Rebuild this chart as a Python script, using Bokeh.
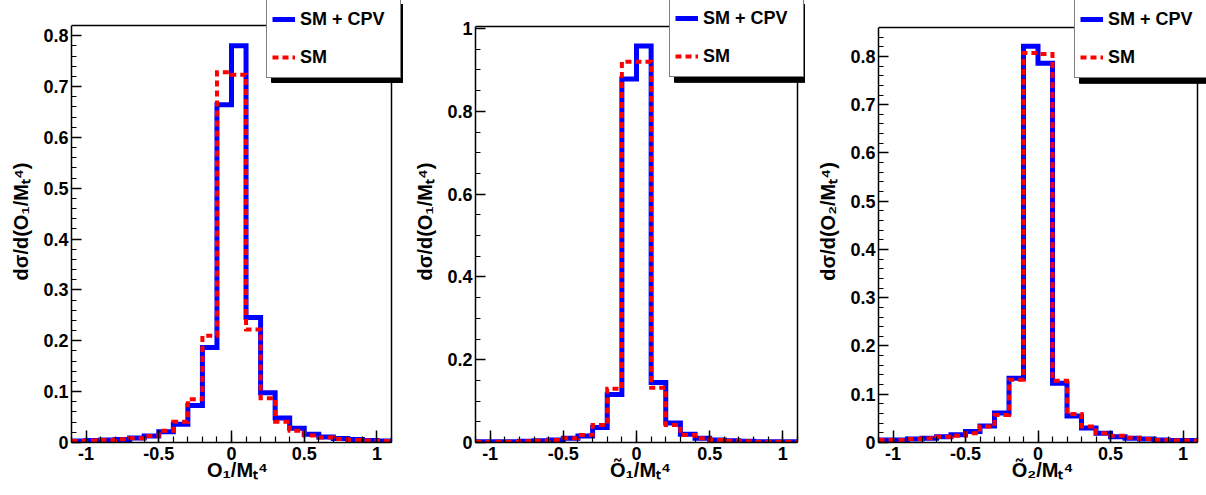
import numpy as np
from bokeh.plotting import figure
from bokeh.layouts import row
from bokeh.models import (Legend, LegendItem, SingleIntervalTicker,
                          PrintfTickFormatter, Range1d)
from bokeh.embed import file_html
from bokeh.resources import INLINE

# ---- data -------------------------------------------------------------
bin_edges = [-1.1, -1.0, -0.9, -0.8, -0.7, -0.6, -0.5, -0.4, -0.3, -0.2, -0.1,
             0.0, 0.1, 0.2, 0.3, 0.4, 0.5, 0.6, 0.7, 0.8, 0.9, 1.0, 1.1]

o1_cpv = [0.003, 0.004, 0.005, 0.006, 0.009, 0.013, 0.021, 0.036, 0.073, 0.187, 0.664,
          0.780, 0.246, 0.098, 0.048, 0.028, 0.016, 0.011, 0.008, 0.006, 0.004, 0.003]
o1_sm = [0.003, 0.004, 0.005, 0.0065, 0.0085, 0.013, 0.023, 0.041, 0.085, 0.210, 0.728,
         0.723, 0.222, 0.087, 0.041, 0.023, 0.014, 0.010, 0.007, 0.005, 0.004, 0.003]

o1t_cpv = [0.002, 0.002, 0.002, 0.003, 0.004, 0.006, 0.010, 0.016, 0.036, 0.116, 0.878,
           0.958, 0.145, 0.047, 0.020, 0.010, 0.006, 0.004, 0.003, 0.002, 0.002, 0.002]
o1t_sm = [0.002, 0.002, 0.002, 0.003, 0.004, 0.006, 0.010, 0.018, 0.042, 0.130, 0.920,
          0.920, 0.132, 0.042, 0.018, 0.010, 0.006, 0.004, 0.003, 0.002, 0.002, 0.002]

o2t_cpv = [0.005, 0.005, 0.007, 0.009, 0.012, 0.016, 0.023, 0.034, 0.061, 0.133, 0.821,
           0.786, 0.123, 0.055, 0.030, 0.019, 0.012, 0.009, 0.007, 0.005, 0.004, 0.004]
o2t_sm = [0.005, 0.005, 0.007, 0.009, 0.012, 0.014, 0.019, 0.033, 0.057, 0.130, 0.807,
          0.805, 0.128, 0.059, 0.033, 0.019, 0.014, 0.010, 0.007, 0.005, 0.004, 0.004]

series_labels = ["SM + CPV", "SM"]
tick_format = "%.3g"

FONT = "Liberation Sans"
FIG_H = 495
X_LO, X_HI = -1.1, 1.1

# legend box geometry (pixels)
LEG_PAD, LEG_GLYPH_W, LEG_STANDOFF, LEG_LABEL_W = 5, 23, 5, 95
LEG_W = 2 * LEG_PAD + LEG_GLYPH_W + LEG_STANDOFF + LEG_LABEL_W
SHADOW_DX, SHADOW_DY = 5, 4


def make_panel(fig_w, frame_l, frame_r, frame_t, frame_b, ymax, y_int, y_minor,
               ylabel, xlabel, cpv, sm, leg_left, leg_bottom):
    """frame_* are the ROOT-frame edges in pixels, relative to this figure.
    The Bokeh frame spans from frame_l to the right figure edge and from the
    figure top to frame_b, so the legend (like in ROOT) may overhang the box."""
    x_scale = (X_HI - X_LO) / (frame_r - frame_l)
    y_scale = ymax / (frame_b - frame_t)
    x_end = X_LO + (fig_w - frame_l) * x_scale
    y_end = frame_b * y_scale

    def px_x(px):
        return X_LO + (px - frame_l) * x_scale

    def px_y(py):
        return (frame_b - py) * y_scale

    p = figure(width=fig_w, height=FIG_H, title=None,
               x_range=Range1d(X_LO, x_end), y_range=Range1d(0, y_end),
               output_backend="svg", toolbar_location=None,
               min_border_left=frame_l, min_border_right=0,
               min_border_top=0, min_border_bottom=FIG_H - frame_b)
    p.background_fill_color = "white"
    p.border_fill_color = "white"
    p.outline_line_color = None
    p.xgrid.grid_line_color = None
    p.ygrid.grid_line_color = None

    # histograms as staircases
    blue = p.step(x=bin_edges, y=list(cpv) + [cpv[-1]], mode="after",
                  line_color="#0000ff", line_width=5, line_join="miter")
    red = p.step(x=bin_edges, y=list(sm) + [sm[-1]], mode="after",
                 line_color="#ff0000", line_width=4, line_dash="6 4",
                 line_join="miter")

    # top and right edges of the ROOT frame box
    p.line(x=[X_LO, X_HI, X_HI], y=[ymax, ymax, 0], line_color="black",
           line_width=1.5, line_join="miter")

    # legend shadow (ROOT TPave style)
    p.quad(left=[px_x(leg_left + SHADOW_DX)],
           right=[px_x(leg_left + LEG_W + SHADOW_DX)],
           top=[px_y(SHADOW_DY)], bottom=[px_y(leg_bottom + SHADOW_DY)],
           fill_color="black", line_color="black")

    # axes
    xa = p.xaxis[0]
    xa.ticker = SingleIntervalTicker(interval=0.5, num_minor_ticks=5)
    xa.bounds = (X_LO, X_HI)
    ya = p.yaxis[0]
    ya.ticker = SingleIntervalTicker(interval=y_int, num_minor_ticks=y_minor)
    ya.bounds = (0, ymax)
    for ax in (xa, ya):
        ax.formatter = PrintfTickFormatter(format=tick_format)
        ax.axis_line_color = "black"
        ax.axis_line_width = 1.5
        ax.major_tick_line_color = "black"
        ax.minor_tick_line_color = "black"
        ax.major_tick_line_width = 1.5
        ax.minor_tick_line_width = 1.2
        ax.major_tick_out = 0
        ax.minor_tick_out = 0
        ax.major_label_text_font = FONT
        ax.major_label_text_font_style = "bold"
        ax.major_label_text_font_size = "18px"
        ax.major_label_text_color = "black"
        ax.axis_label_text_font = FONT
        ax.axis_label_text_font_style = "bold"
        ax.axis_label_text_font_size = "20px"
        ax.axis_label_text_color = "black"
    xa.major_tick_in = 12
    xa.minor_tick_in = 6
    ya.major_tick_in = 10
    ya.minor_tick_in = 5
    xa.major_label_standoff = 4
    ya.major_label_standoff = 3
    xa.axis_label = xlabel
    ya.axis_label = ylabel
    xa.axis_label_standoff = -4
    ya.axis_label_standoff = 8

    # legend
    lg = Legend(items=[LegendItem(label=series_labels[0], renderers=[blue]),
                       LegendItem(label=series_labels[1], renderers=[red])],
                location=(leg_left - frame_l, frame_b - leg_bottom),
                orientation="vertical")
    lg.label_text_font = FONT
    lg.label_text_font_style = "bold"
    lg.label_text_font_size = "18px"
    lg.label_text_color = "black"
    lg.border_line_color = "black"
    lg.border_line_width = 1.5
    lg.background_fill_color = "white"
    lg.background_fill_alpha = 1.0
    lg.padding = LEG_PAD
    lg.spacing = 8
    lg.margin = 0
    lg.glyph_width = LEG_GLYPH_W
    lg.glyph_height = 30
    lg.label_height = 30
    lg.label_width = LEG_LABEL_W
    lg.label_standoff = LEG_STANDOFF
    p.add_layout(lg, "center")
    return p


p1 = make_panel(403, 71, 391, 25, 442, 0.82, 0.1, 5,
                "dσ/d(O₁/Mₜ⁴)", "O₁/Mₜ⁴", o1_cpv, o1_sm, 266, 78)
p2 = make_panel(402, 72, 394, 26, 443, 1.005, 0.2, 4,
                "dσ/d(O₁/Mₜ⁴)", "Õ₁/Mₜ⁴", o1t_cpv, o1t_sm, 266, 78)
p3 = make_panel(401, 73, 392, 27, 443, 0.86, 0.1, 5,
                "dσ/d(O₂/Mₜ⁴)", "Õ₂/Mₜ⁴", o2t_cpv, o2t_sm, 269, 79)

layout = row(p1, p2, p3, spacing=0)

open("out.html", "w").write(file_html(layout, INLINE))
